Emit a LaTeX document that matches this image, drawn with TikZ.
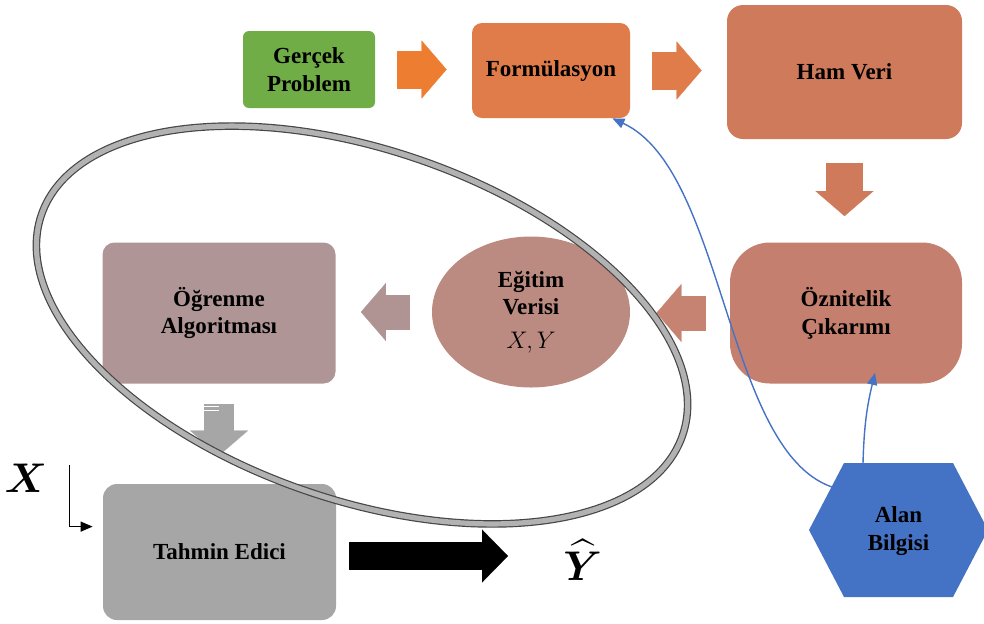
\documentclass[tikz,border=0pt]{standalone}
\usepackage{amsmath}
\usepackage{fontspec}
\setmainfont{Liberation Serif}
\usetikzlibrary{shapes.geometric, arrows.meta, positioning}

\definecolor{problemgreen}{HTML}{70AD47}
\definecolor{formorange}{HTML}{E07B4A}
\definecolor{arroworange}{HTML}{ED7D31}
\definecolor{rawred}{HTML}{D07A5C}
\definecolor{featred}{HTML}{C47F6E}
\definecolor{trainrose}{HTML}{BB8A80}
\definecolor{learnrose}{HTML}{AF9595}
\definecolor{predgray}{HTML}{A6A6A6}
\definecolor{domainblue}{HTML}{4472C4}

\tikzstyle{box} = [rectangle, text centered, align=center, inner sep=0pt, font=\fontsize{11.5}{13.8}\selectfont\bfseries]
\tikzstyle{problem} = [box, minimum width=66pt, minimum height=38.5pt, rounded corners=3pt, fill=problemgreen]
\tikzstyle{formul} = [box, minimum width=79pt, minimum height=47.5pt, rounded corners=5pt, fill=formorange]
\tikzstyle{rawdata} = [box, minimum width=117.5pt, minimum height=67pt, rounded corners=8pt, fill=rawred]
\tikzstyle{feature} = [box, minimum width=116pt, minimum height=70.5pt, rounded corners=20pt, fill=featred]
\tikzstyle{traindata} = [box, ellipse, minimum width=99pt, minimum height=75.5pt, fill=trainrose]
\tikzstyle{learner} = [box, minimum width=116.5pt, minimum height=70.5pt, rounded corners=6pt, fill=learnrose]
\tikzstyle{predictor} = [box, minimum width=116.5pt, minimum height=68pt, rounded corners=7pt, fill=predgray]
\tikzstyle{bigletter} = [inner sep=0pt, font=\fontsize{22}{26}\selectfont]
\tikzstyle{flowarrow} = [line width=19pt, -{Triangle[width=29pt, length=12.5pt, line width=0.1pt]}]
\tikzstyle{outarrow} = [line width=14pt, -{Triangle[width=26.5pt, length=13pt, line width=0.1pt]}]
\tikzstyle{thinarrow} = [line width=0.6pt, -{Triangle[width=5pt, length=6pt]}]
\tikzstyle{bluelink} = [draw=domainblue, line width=0.7pt, -{Triangle[width=5pt, length=6pt]}]
\tikzstyle{ring} = [draw=gray!55!black, line width=0.6pt, double=gray!60, double distance=2.6pt]

\begin{document}
\begin{tikzpicture}[x=0.5pt, y=-0.5pt]
\useasboundingbox (0,0) rectangle (984,623);

% Domain knowledge hexagon
\fill[domainblue] (809,530) -- (844,463) -- (953,463) -- (988,530) -- (953,597) -- (844,597) -- cycle;
\coordinate (alanN) at (863,463);
\coordinate (alanNW) at (832,487);

% Nodes
\node (gercek) [problem] at (309,69.5) {Gerçek\\Problem};
\node (formul) [formul] at (551,70.5) {Formülasyon};
\node (hamveri) [rawdata] at (844.5,72) {Ham Veri};
\node (oznitelik) [feature] at (846,313) {Öznitelik\\Çıkarımı};
\node (egitim) [traindata] at (531,312) {Eğitim\\Verisi\\[3pt]\mdseries$X,Y$};
\node (ogrenme) [learner] at (219,313) {Öğrenme\\Algoritması};
\node (tahmin) [predictor] at (219.5,552) {Tahmin Edici};
\node (alan) [box] at (898.5,531) {Alan\\Bilgisi};
\node (xlab) [bigletter] at (26,478) {$\boldsymbol{X}$};
\node (yhat) [bigletter, anchor=west] at (563,560) {$\widehat{\boldsymbol{Y}}$};

% Arrows
\draw [flowarrow, draw=arroworange, shorten <=11pt, shorten >=12.5pt] (gercek.east) -- (gercek.east -| formul.west);
\draw [flowarrow, draw=formorange, shorten <=11pt, shorten >=12.5pt] (formul.east) -- (formul.east -| hamveri.west);
\draw [flowarrow, draw=rawred, line width=18.5pt, shorten <=12pt, shorten >=13pt] (hamveri.south) -- (hamveri.south |- oznitelik.north);
\draw [flowarrow, draw=featred!97!white, line width=17.5pt, shorten <=12pt, shorten >=13pt] (oznitelik.west) -- (oznitelik.west -| egitim.east);
\draw [flowarrow, draw=learnrose!95!trainrose, line width=17.5pt, shorten <=11pt, shorten >=12.5pt] (egitim.west) -- (egitim.west -| ogrenme.east);
\draw [flowarrow, draw=predgray, line width=15pt, shorten <=10pt, shorten >=14pt] (ogrenme.south) -- (ogrenme.south |- tahmin.north);
\draw [white, line width=0.5pt] ([xshift=-7.5pt, yshift=-11.5pt]ogrenme.south) -- ++(15,0);
\draw [white, line width=0.5pt] ([xshift=-7.5pt, yshift=-13.3pt]ogrenme.south) -- ++(15,0);
\draw [outarrow, draw=black, shorten <=6.5pt, shorten >=27.5pt] ([yshift=-2pt]tahmin.east) -- ([yshift=-2pt]tahmin.east -| yhat.west);
\draw [thinarrow] ([xshift=11pt, yshift=-1pt]xlab.north east) |- ([xshift=-5pt, yshift=-21.5pt]tahmin.north west);

% Curved links from domain knowledge
\draw [bluelink] (alanNW) .. controls (725,450) and (725,170) .. ([xshift=-9pt]formul.south east);
\draw [bluelink] (alanN) to[bend left=6] ([xshift=14.5pt, yshift=5.5pt]oznitelik.south);

% Ring around learning part
\draw [ring, rotate around={-19:(362,325)}] (362,325) ellipse [x radius=169.5pt, y radius=87.5pt];

\end{tikzpicture}
\end{document}
